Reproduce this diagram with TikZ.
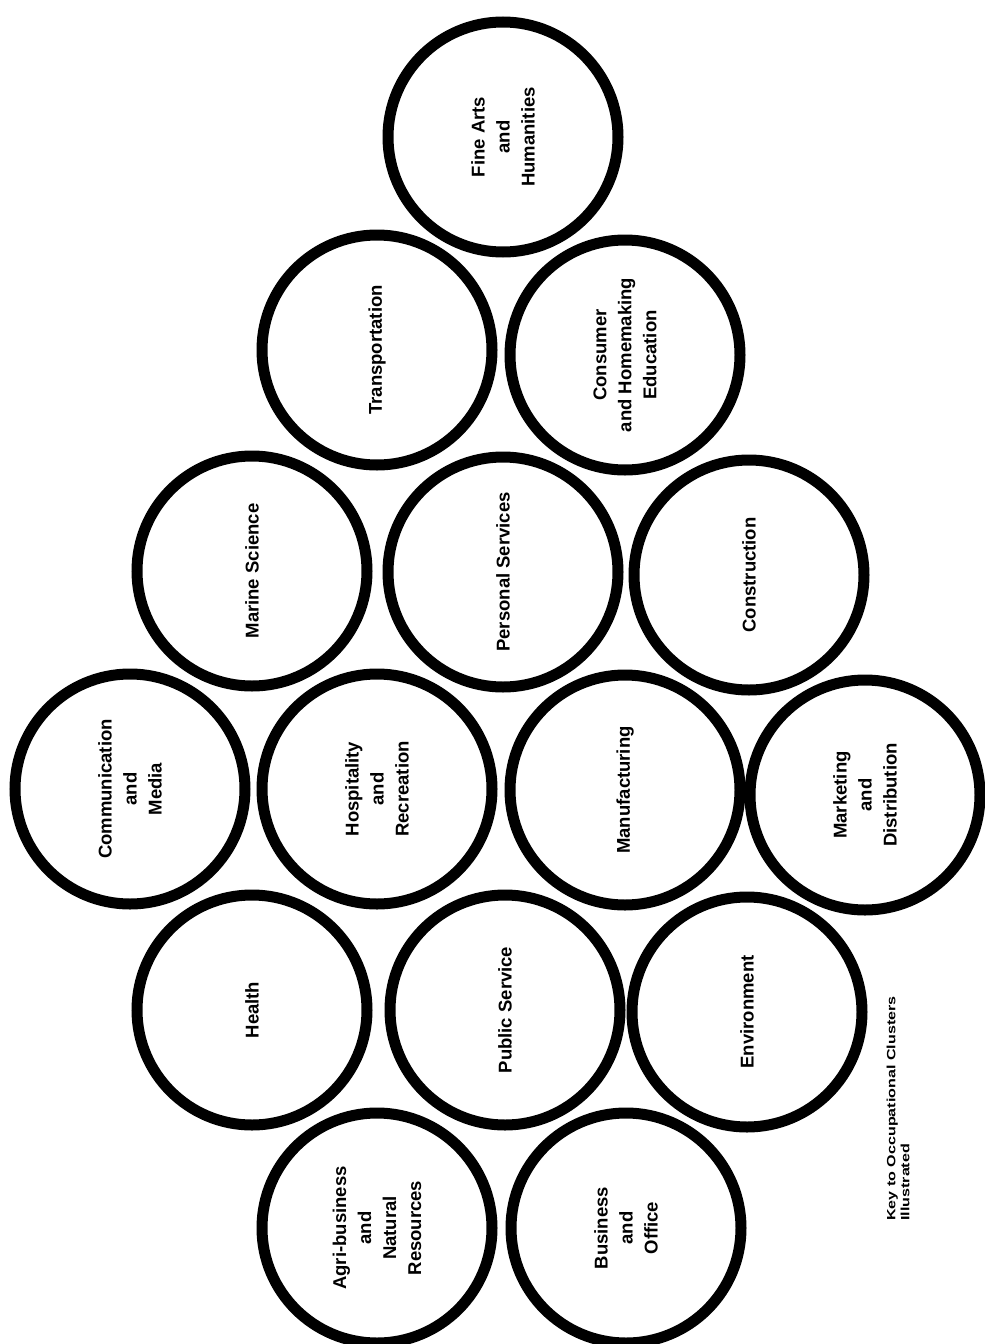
\documentclass[tikz,border=0pt]{standalone}
\usepackage{fontspec}
\setmainfont{Liberation Sans}
\tikzset{
  cluster/.style={circle, draw=black, line width=11pt, minimum size=230pt, inner sep=0pt,
    rotate=90, align=center, font=\fontsize{18.5}{25}\selectfont\bfseries},
  keytext/.style={rotate=90, xscale=1.34, align=left, inner sep=0pt, anchor=west,
    font=\fontsize{12}{14}\selectfont\bfseries}
}
\begin{document}
\begin{tikzpicture}[x=1pt, y=-1pt]
\useasboundingbox (0,0) rectangle (985,1344);
% row 0
\node[cluster] (fine) at (503,137) {Fine Arts\\and\\Humanities};
% row 1
\node[cluster] (trans) at (377,350) {Transportation};
\node[cluster] (consumer) at (625,355) {Consumer\\and Homemaking\\Education};
% row 2
\node[cluster] (marine) at (252,571) {Marine Science};
\node[cluster] (personal) at (503,572) {Personal Services};
\node[cluster] (construction) at (749,575) {Construction};
% row 3
\node[cluster] (comm) at (130,789) {Communication\\and\\Media};
\node[cluster] (hosp) at (377,789) {Hospitality\\and\\Recreation};
\node[cluster] (manuf) at (625,790) {Manufacturing};
\node[cluster] (market) at (865,795) {Marketing\\and\\Distribution};
% row 4
\node[cluster] (health) at (252,1010) {Health};
\node[cluster] (public) at (505,1010) {Public Service};
\node[cluster] (env) at (747,1012) {Environment};
% row 5
\node[cluster] (agri) at (377,1228) {Agri-business\\and\\Natural\\Resources};
\node[cluster] (business) at (626,1228) {Business\\and\\Office};
% key
\node[keytext] (key) at (898,1221) {Key to Occupational Clusters\\Illustrated};
\end{tikzpicture}
\end{document}
